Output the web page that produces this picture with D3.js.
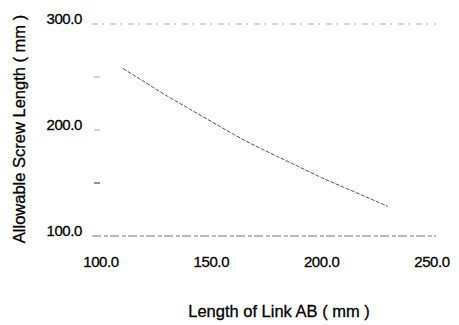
<!DOCTYPE html>
<html>
<head>
<meta charset="utf-8">
<script src="https://cdn.jsdelivr.net/npm/d3@7"></script>
<style>
  body { margin: 0; background: #fff; }
  text { font-family: "Liberation Sans", Arial, sans-serif; fill: #000; stroke: #000; stroke-width: 0.3px; }
</style>
</head>
<body>
<div id="chart"></div>
<script>
// allowable screw length against the length of link AB
const linkLength = [110, 120, 130, 140, 150, 160, 170, 180, 190, 200, 210, 220, 230]
const screwLength = [258, 245, 232, 220, 208, 196, 185, 175, 165, 155, 146, 137, 128]
const xTicks = [100, 150, 200, 250]
const yTicks = [100, 200, 300]
const yMinor = [150, 200, 250]

const W = 459, H = 325
const plot = {left: 92, right: 436}

const svg = d3.select("#chart").append("svg")
  .attr("width", W)
  .attr("height", H)

const x = d3.scaleLinear().domain([100, 250]).range([101, 432])
const y = d3.scaleLinear().domain([100, 300]).range([236, 24])

// faint top grid line and bottom axis line
svg.append("line")
  .attr("x1", plot.left).attr("x2", plot.right)
  .attr("y1", y(300)).attr("y2", y(300))
  .attr("stroke", "#aaa").attr("stroke-width", 1)
  .attr("stroke-dasharray", "6,4,2,6")
svg.append("line")
  .attr("x1", plot.left).attr("x2", plot.right)
  .attr("y1", y(100)).attr("y2", y(100))
  .attr("stroke", "#777").attr("stroke-width", 1)
  .attr("stroke-dasharray", "9,3,4,2")

// short y tick marks
svg.selectAll(".ymark").data(yMinor).enter().append("line")
  .attr("x1", plot.left + 2).attr("x2", plot.left + 8)
  .attr("y1", d => y(d)).attr("y2", d => y(d))
  .attr("stroke", d => d === 150 ? "#222" : "#aaa")
  .attr("stroke-width", 1)

// x axis labels
svg.selectAll(".xl").data(xTicks).enter().append("text")
  .attr("x", d => x(d))
  .attr("y", y(100) + 31)
  .attr("text-anchor", "middle")
  .style("font-size", "15px")
  .style("letter-spacing", "-0.4px")
  .text(d => d.toFixed(1))

// y axis labels
svg.selectAll(".yl").data(yTicks).enter().append("text")
  .attr("x", 82)
  .attr("y", d => y(d))
  .attr("text-anchor", "end")
  .style("font-size", "15px")
  .style("letter-spacing", "-0.4px")
  .text(d => d.toFixed(1))

// the curve
const line = d3.line()
  .x((d, i) => x(linkLength[i]))
  .y(d => y(d))
  .curve(d3.curveMonotoneX)

svg.append("path")
  .datum(screwLength)
  .attr("d", line)
  .attr("fill", "none")
  .attr("stroke", "#555")
  .attr("stroke-width", 1)
  .attr("stroke-dasharray", "4,1.5")

// axis titles
svg.append("text")
  .attr("x", 279)
  .attr("y", 317)
  .attr("text-anchor", "middle")
  .style("font-size", "16.5px")
  .text("Length of Link AB ( mm )")

svg.append("text")
  .attr("transform", "translate(25,129) rotate(-90)")
  .attr("text-anchor", "middle")
  .style("font-size", "16.5px")
  .text("Allowable Screw Length ( mm )")
</script>
</body>
</html>
